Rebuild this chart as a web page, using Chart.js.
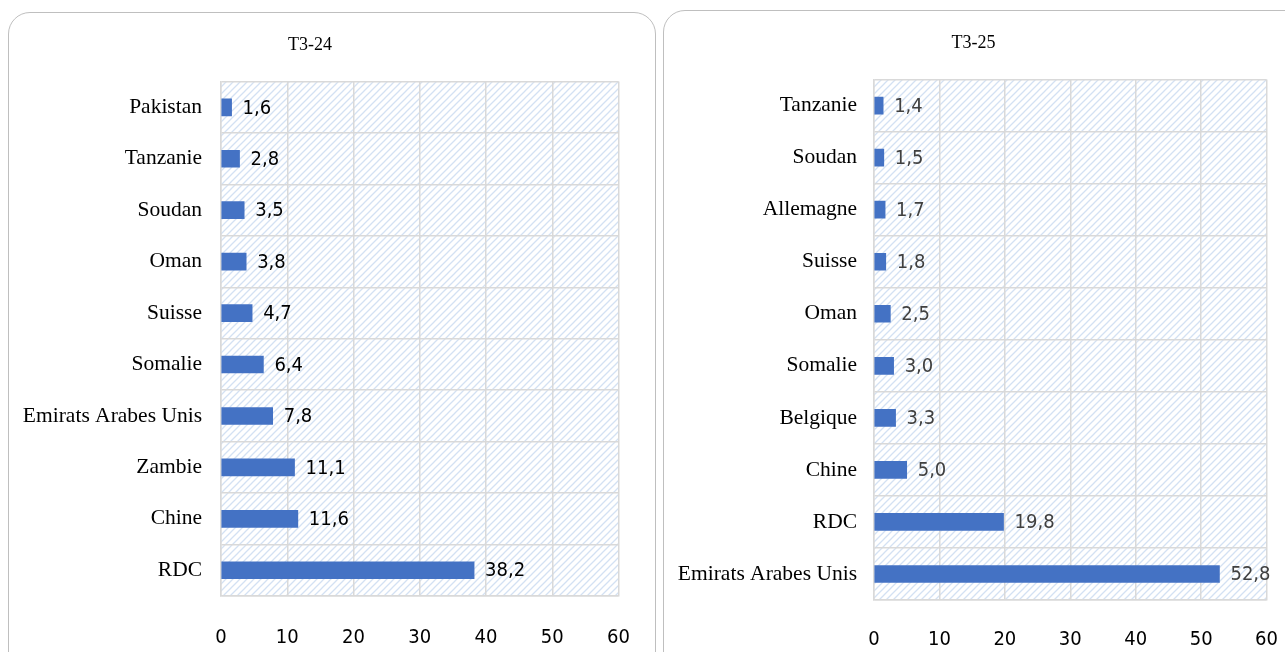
<!DOCTYPE html>
<html>
<head>
<meta charset="utf-8">
<script src="https://cdn.jsdelivr.net/npm/chart.js@4"></script>
<style>
  body { margin: 0; background: #fff; width: 1285px; height: 652px; overflow: hidden; position: relative; }
  .panel { position: absolute; border: 1.5px solid #bfbfbf; border-radius: 22px; background: #fff; }
  canvas { position: absolute; top: 0; }
</style>
</head>
<body>
<div class="panel" style="left:8px; top:12px; width:646px; height:680px;"></div>
<div class="panel" style="left:663px; top:10px; width:650px; height:680px;"></div>
<canvas id="left" width="660" height="652" style="left:0px"></canvas>
<canvas id="right" width="646" height="652" style="left:660px"></canvas>
<script>
// data
const leftTitle = 'T3-24';
const leftCategories = ['Pakistan', 'Tanzanie', 'Soudan', 'Oman', 'Suisse', 'Somalie', 'Emirats Arabes Unis', 'Zambie', 'Chine', 'RDC'];
const leftValues = [1.6, 2.8, 3.5, 3.8, 4.7, 6.4, 7.8, 11.1, 11.6, 38.2];

const rightTitle = 'T3-25';
const rightCategories = ['Tanzanie', 'Soudan', 'Allemagne', 'Suisse', 'Oman', 'Somalie', 'Belgique', 'Chine', 'RDC', 'Emirats Arabes Unis'];
const rightValues = [1.4, 1.5, 1.7, 1.8, 2.5, 3.0, 3.3, 5.0, 19.8, 52.8];

const xTicks = [0, 10, 20, 30, 40, 50, 60];

const sansFont = "'Liberation Sans Narrow', 'DejaVu Sans Condensed', 'Open Sans', sans-serif";
const serifFont = "'Liberation Serif', 'DejaVu Serif', serif";

// diagonal hatch for the plot area
function hatchPattern(ctx) {
    const c = document.createElement('canvas');
    c.width = 7; c.height = 7;
    const p = c.getContext('2d');
    p.fillStyle = '#ffffff';
    p.fillRect(0, 0, 7, 7);
    p.strokeStyle = '#d3e1f3';
    p.lineWidth = 1.3;
    p.beginPath();
    p.moveTo(-1, 8); p.lineTo(8, -1);
    p.moveTo(-1, 1); p.lineTo(1, -1);
    p.moveTo(6, 8); p.lineTo(8, 6);
    p.stroke();
    return ctx.createPattern(c, 'repeat');
}

const plotBg = {
    id: 'plotBg',
    beforeDraw(chart) {
        const a = chart.chartArea, ctx = chart.ctx;
        ctx.save();
        ctx.fillStyle = hatchPattern(ctx);
        ctx.fillRect(a.left, a.top, a.right - a.left, a.bottom - a.top);
        ctx.restore();
    }
};

// value labels at the end of the bars
const valueLabels = {
    id: 'valueLabels',
    afterDatasetsDraw(chart, args, opts) {
        const ctx = chart.ctx;
        const meta = chart.getDatasetMeta(0);
        ctx.save();
        ctx.font = '20px ' + sansFont;
        ctx.fillStyle = opts.color;
        ctx.textAlign = 'left';
        ctx.textBaseline = 'middle';
        meta.data.forEach((bar, i) => {
            const v = chart.data.datasets[0].data[i];
            ctx.fillText(v.toFixed(1).replace('.', ','), bar.x + 11, bar.y + 1);
        });
        ctx.restore();
    }
};

function makeChart(id, title, categories, values, lay) {
    return new Chart(document.getElementById(id), {
        type: 'bar',
        data: {
            labels: categories,
            datasets: [{
                data: values,
                backgroundColor: '#4472c4',
                barThickness: 17
            }]
        },
        plugins: [plotBg, valueLabels],
        options: {
            responsive: false,
            animation: false,
            indexAxis: 'y',
            layout: { padding: { left: 0, right: lay.right, top: 0, bottom: 0 } },
            plugins: {
                legend: { display: false },
                tooltip: { enabled: false },
                title: {
                    display: true,
                    text: title,
                    color: '#000',
                    font: { family: serifFont, size: 18, weight: 'normal' },
                    padding: { top: lay.titleTop, bottom: lay.titleBottom }
                },
                valueLabels: { color: lay.valueColor }
            },
            scales: {
                x: {
                    min: 0,
                    max: 60,
                    afterBuildTicks(scale) { scale.ticks = xTicks.map(v => ({ value: v })); },
                    afterFit(scale) { scale.height = lay.xHeight; },
                    grid: { color: '#d9d9d9', lineWidth: 1.5, drawTicks: false },
                    border: { color: '#d9d9d9', width: 1.5 },
                    ticks: { color: '#000', padding: lay.xPad, font: { family: sansFont, size: 20 } }
                },
                y: {
                    afterFit(scale) { scale.width = lay.yWidth; },
                    grid: { color: '#d9d9d9', lineWidth: 1.5, drawTicks: false },
                    border: { color: '#d9d9d9', width: 1.5 },
                    ticks: { color: '#000', padding: lay.yPad, font: { family: serifFont, size: 21.5 } }
                }
            }
        }
    });
}

makeChart('left', leftTitle, leftCategories, leftValues, {
    right: 40, titleTop: 34, titleBottom: 26, xHeight: 56, xPad: 30, yWidth: 221, yPad: 19, valueColor: '#000'
});
makeChart('right', rightTitle, rightCategories, rightValues, {
    right: 19, titleTop: 32, titleBottom: 26, xHeight: 52, xPad: 28, yWidth: 214, yPad: 17, valueColor: '#404040'
});
</script>
</body>
</html>
